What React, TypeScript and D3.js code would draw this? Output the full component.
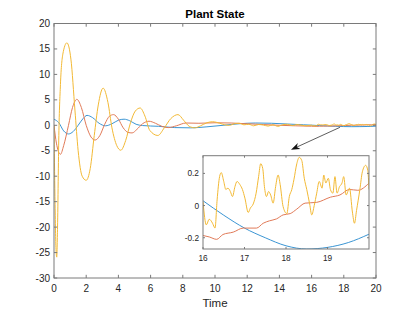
import React from "react";
import * as d3 from "d3";

// main plot window
const xTicks = [0, 2, 4, 6, 8, 10, 12, 14, 16, 18, 20];
const yTicks = [-30, -25, -20, -15, -10, -5, 0, 5, 10, 15, 20];
// zoomed window
const insetXTicks = [16, 17, 18, 19];
const insetYTicks = [-0.2, 0, 0.2];
const insetXTickLabels = ["16", "17", "18", "19"];
const insetYTickLabels = ["-0.2", "0", "0.2"];

// [time, value]
const blueMain: [number, number][] = [
  [0, 1.2], [0.3, 0.5], [0.6, -1.1], [0.9, -1.7], [1.2, -1.2], [1.5, 0.0], [1.8, 1.3],
  [2.05, 1.95], [2.4, 1.5], [2.8, 0.4], [3.2, -0.1], [3.6, 0.3], [4.0, 1.0], [4.35, 1.2],
  [4.7, 0.9], [5.1, 0.2], [5.5, -0.05], [6.5, -0.2], [7.5, -0.45], [8.5, -0.5], [9.5, -0.3],
  [10.5, 0.0], [11.5, 0.3], [12.5, 0.45], [13.5, 0.4], [14.5, 0.25], [15.5, 0.1],
];
const blueZoom: [number, number][] = [
  [16, 0.03], [16.5, -0.06], [17, -0.14], [17.5, -0.2], [18, -0.25], [18.5, -0.27],
  [19, -0.26], [19.5, -0.23], [20, -0.178],
];

const orangeMain: [number, number][] = [
  [0, 0], [0.15, -3.5], [0.4, -5.7], [0.6, -4], [0.9, 0], [1.15, 3.5], [1.42, 5.1],
  [1.7, 3.5], [2.0, 0], [2.3, -2.3], [2.55, -2.9], [2.85, -2], [3.15, 0.2], [3.45, 1.8],
  [3.7, 2.1], [4.0, 1.2], [4.3, -0.5], [4.6, -1.4], [4.85, -1.5], [5.15, -0.8], [5.5, 0.3],
  [5.9, 0.8], [6.3, 0.4], [6.7, -0.2], [7.1, -0.45], [7.6, -0.1], [8.2, 0.45], [9.0, 0.4],
  [10, 0.5], [11, 0.45], [12, 0.3], [13, 0.15], [14, 0.0], [15, -0.1],
];
const orangeZoom: [number, number][] = [
  [16, -0.186], [16.15, -0.195], [16.33, -0.21], [16.48, -0.18], [16.73, -0.165],
  [16.97, -0.14], [17.29, -0.14], [17.45, -0.11], [17.6, -0.095], [17.77, -0.083],
  [17.93, -0.058], [18.1, -0.05], [18.26, -0.022], [18.46, 0.015], [18.74, 0.02],
  [19.07, 0.052], [19.3, 0.066], [19.53, 0.1], [19.73, 0.095], [20, 0.14],
];

const yellowMain: [number, number][] = [
  [0, 0], [0.06, -14], [0.12, -24], [0.17, -25.9], [0.22, -20], [0.3, -2], [0.4, 8],
  [0.55, 14], [0.8, 16.2], [1.05, 13], [1.3, 3], [1.5, -5], [1.75, -10], [2.0, -10.8],
  [2.25, -8.5], [2.5, -2], [2.75, 4], [3.05, 7.3], [3.35, 4.5], [3.6, -0.5], [3.9, -4],
  [4.15, -4.9], [4.45, -3], [4.75, 0.5], [5.05, 2.8], [5.35, 3.4], [5.65, 1.8], [5.95, -1],
  [6.45, -2.0], [6.85, -0.5], [7.25, 1.3], [7.7, 2.1], [8.05, 1.0], [8.4, -0.2],
  [8.75, -0.5], [9.1, -0.1], [9.5, 0.5], [9.85, 0.7], [10.3, 0.4], [10.6, 0.1], [10.9, 0.0],
  [11.2, 0.3], [11.5, 0.4], [11.8, 0.1], [12.1, 0.2], [12.4, -0.1], [12.7, 0.15], [13.0, 0.05],
  [13.3, -0.15], [13.6, 0.1], [13.9, -0.2], [14.2, 0.1], [14.5, 0.2], [14.8, -0.05],
  [15.1, 0.15], [15.4, 0.0], [15.7, -0.1],
];
const yellowZoom: [number, number][] = [
  [16.0, 0.025], [16.08, -0.12], [16.15, -0.085], [16.23, -0.11], [16.29, -0.14],
  [16.34, 0.035], [16.4, 0.18], [16.44, 0.205], [16.5, 0.15], [16.55, 0.1], [16.6, 0.108],
  [16.66, 0.087], [16.71, 0.056], [16.77, 0.118], [16.82, 0.15], [16.89, 0.13], [16.95, 0.1],
  [17.01, 0.046], [17.09, -0.043], [17.14, -0.016], [17.21, 0.01], [17.28, 0.077],
  [17.34, 0.18], [17.39, 0.26], [17.44, 0.23], [17.48, 0.118], [17.53, 0.056], [17.58, 0.087],
  [17.63, 0.066], [17.69, 0.015], [17.75, 0.118], [17.81, 0.19], [17.86, 0.13], [17.93, -0.006],
  [18.02, -0.05], [18.08, 0.056], [18.14, 0.1], [18.19, 0.16], [18.26, 0.26], [18.32, 0.3],
  [18.38, 0.28], [18.44, 0.17], [18.5, 0.1], [18.57, 0.01], [18.62, -0.058], [18.68, 0.0],
  [18.74, 0.077], [18.8, 0.15], [18.87, 0.108], [18.91, 0.19], [18.96, 0.14], [19.02, 0.17],
  [19.07, 0.1], [19.13, 0.077], [19.18, 0.18], [19.23, 0.077], [19.29, 0.118], [19.35, 0.14],
  [19.39, 0.18], [19.45, 0.066], [19.53, 0.108], [19.6, -0.04], [19.65, -0.11], [19.7, -0.03],
  [19.78, 0.1], [19.84, 0.21], [19.92, 0.25], [19.97, 0.22], [20.0, 0.1],
];

const series = [
  { name: "x1", color: "#3b95d3", data: blueMain.concat(blueZoom) },
  { name: "x2", color: "#e07a58", data: orangeMain.concat(orangeZoom) },
  { name: "x3", color: "#f2b935", data: yellowMain.concat(yellowZoom) },
];

// arrow in main-axes data units: tail, head
const arrowFrom: [number, number] = [17.76, -0.4];
const arrowTo: [number, number] = [14.72, -4.8];

const W = 415;
const H = 312;
const font = "'Liberation Sans', Arial, Helvetica, sans-serif";
const axisColor = "#262626";
const boxColor = "#7a7a7a";

export default function App() {
  const x = d3.scaleLinear().domain([0, 20]).range([54, 376]);
  const y = d3.scaleLinear().domain([-30, 20]).range([278, 23.5]);
  const ix = d3.scaleLinear().domain([16, 20]).range([203, 369]);
  const iy = d3.scaleLinear().domain([-0.27, 0.31]).range([249, 155.7]);

  const mainLine = d3.line<[number, number]>()
    .x(d => x(d[0]))
    .y(d => y(d[1]))
    .curve(d3.curveMonotoneX);
  const insetLine = d3.line<[number, number]>()
    .x(d => ix(d[0]))
    .y(d => iy(d[1]))
    .curve(d3.curveMonotoneX);

  const tl = 3.2;
  const itl = 2;

  // arrow geometry
  const ax1 = x(arrowFrom[0]), ay1 = y(arrowFrom[1]);
  const ax2 = x(arrowTo[0]), ay2 = y(arrowTo[1]);
  const ang = Math.atan2(ay2 - ay1, ax2 - ax1);
  const hl = 9, hw = 3.2;
  const bx = ax2 - hl * Math.cos(ang), by = ay2 - hl * Math.sin(ang);
  const head = [
    [ax2, ay2],
    [bx + hw * Math.sin(ang), by - hw * Math.cos(ang)],
    [ax2 - hl * 0.7 * Math.cos(ang), ay2 - hl * 0.7 * Math.sin(ang)],
    [bx - hw * Math.sin(ang), by + hw * Math.cos(ang)],
  ].map(p => p.join(",")).join(" ");

  return (
    <svg width={W} height={H} style={{ position: "absolute", left: 0, top: 0, background: "#fff" }}
      fontFamily={font}>
      <defs>
        <clipPath id="mainClip">
          <rect x={x(0)} y={y(20)} width={x(20) - x(0)} height={y(-30) - y(20)} />
        </clipPath>
        <clipPath id="insetClip">
          <rect x={ix(16)} y={iy(0.31)} width={ix(20) - ix(16)} height={iy(-0.27) - iy(0.31)} />
        </clipPath>
      </defs>

      <text x={215} y={17.5} textAnchor="middle" fontWeight="bold" fontSize={11.5} fill="#000">Plant State</text>

      {/* main axes */}
      <g clipPath="url(#mainClip)">
        {series.map(s => (
          <path key={s.name} d={mainLine(s.data) || ""} fill="none" stroke={s.color} strokeWidth={1} />
        ))}
      </g>
      <rect x={x(0)} y={y(20)} width={x(20) - x(0)} height={y(-30) - y(20)} fill="none" stroke={boxColor} strokeWidth={1} />
      {xTicks.map(t => (
        <g key={"xt" + t}>
          <line x1={x(t)} x2={x(t)} y1={y(-30)} y2={y(-30) - tl} stroke={boxColor} />
          <line x1={x(t)} x2={x(t)} y1={y(20)} y2={y(20) + tl} stroke={boxColor} />
          <text x={x(t)} y={292} textAnchor="middle" fontSize={10} fill={axisColor}>{t}</text>
        </g>
      ))}
      {yTicks.map(t => (
        <g key={"yt" + t}>
          <line x1={x(0)} x2={x(0) + tl} y1={y(t)} y2={y(t)} stroke={boxColor} />
          <line x1={x(20)} x2={x(20) - tl} y1={y(t)} y2={y(t)} stroke={boxColor} />
          <text x={50} y={y(t) + 3.5} textAnchor="end" fontSize={10} fill={axisColor}>{t}</text>
        </g>
      ))}
      <text x={215} y={306.5} textAnchor="middle" fontSize={11.5} fill={axisColor}>Time</text>

      {/* arrow */}
      <line x1={ax1} y1={ay1} x2={ax2 - 5 * Math.cos(ang)} y2={ay2 - 5 * Math.sin(ang)} stroke="#333" strokeWidth={0.8} />
      <polygon points={head} fill="#111" />

      {/* inset axes */}
      <rect x={ix(16)} y={iy(0.31)} width={ix(20) - ix(16)} height={iy(-0.27) - iy(0.31)} fill="#fff" />
      <g clipPath="url(#insetClip)">
        {series.map(s => (
          <path key={"i" + s.name} d={insetLine(s.data.filter(d => d[0] >= 15.9)) || ""} fill="none" stroke={s.color} strokeWidth={1} />
        ))}
      </g>
      <rect x={ix(16)} y={iy(0.31)} width={ix(20) - ix(16)} height={iy(-0.27) - iy(0.31)} fill="none" stroke={boxColor} strokeWidth={1} />
      {insetXTicks.map((t, i) => (
        <g key={"ixt" + t}>
          <line x1={ix(t)} x2={ix(t)} y1={iy(-0.27)} y2={iy(-0.27) - itl} stroke={boxColor} />
          <line x1={ix(t)} x2={ix(t)} y1={iy(0.31)} y2={iy(0.31) + itl} stroke={boxColor} />
          <text x={ix(t)} y={261} textAnchor="middle" fontSize={8.3} fill={axisColor}>{insetXTickLabels[i]}</text>
        </g>
      ))}
      {insetYTicks.map((t, i) => (
        <g key={"iyt" + t}>
          <line x1={ix(16)} x2={ix(16) + itl} y1={iy(t)} y2={iy(t)} stroke={boxColor} />
          <line x1={ix(20)} x2={ix(20) - itl} y1={iy(t)} y2={iy(t)} stroke={boxColor} />
          <text x={199} y={iy(t) + 3} textAnchor="end" fontSize={8.3} fill={axisColor}>{insetYTickLabels[i]}</text>
        </g>
      ))}
    </svg>
  );
}
